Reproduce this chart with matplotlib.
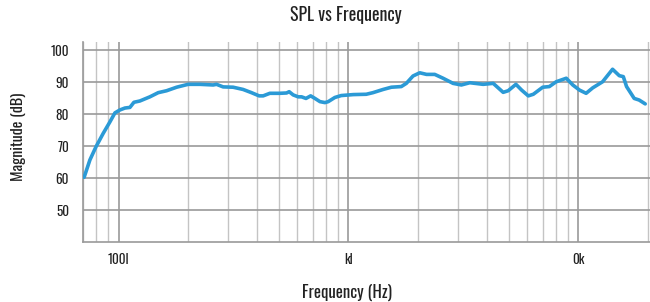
import matplotlib
matplotlib.use("Agg")
import matplotlib.pyplot as plt
from matplotlib.ticker import FixedLocator, LogLocator, NullFormatter, FixedFormatter
import numpy as np

freq = [70.8, 75, 79.7, 85.7, 91.7, 96.4, 101.3, 106.5, 112, 116.6, 123.7, 136.8, 148.7,
        161.7, 178.8, 200.6, 225.8, 257.9, 266.6, 284.9, 314.9, 348, 378.5, 408.6, 425.5,
        455, 502.6, 537.8, 552, 574.6, 604.2, 625, 653.4, 684.7, 714.7, 751.6, 790, 816.5,
        872.6, 930, 1050, 1195, 1278, 1415, 1537, 1697, 1785, 1909, 2042, 2185, 2373, 2579,
        2851, 3098, 3372, 3853, 4262, 4710, 4952, 5352, 5666, 6058, 6370, 7000, 7480, 8010,
        8860, 9460, 10120, 10810, 11550, 12750, 14090, 15070, 15690, 16210, 17500, 18390, 19540]
spl = [60.3, 65.7, 69.8, 74.0, 77.6, 80.4, 81.3, 81.9, 82.1, 83.7, 84.1, 85.4, 86.7,
       87.3, 88.4, 89.3, 89.3, 89.1, 89.3, 88.5, 88.4, 87.7, 86.7, 85.7, 85.7,
       86.5, 86.5, 86.6, 87.0, 86.0, 85.4, 85.4, 84.9, 85.7, 84.9, 83.9, 83.6, 83.9,
       85.2, 85.8, 86.1, 86.2, 86.7, 87.7, 88.4, 88.6, 89.6, 91.9, 92.9, 92.4, 92.4, 91.2,
       89.6, 89.1, 89.8, 89.3, 89.6, 86.8, 87.3, 89.3, 87.5, 85.7, 86.2, 88.4, 88.6, 90.1,
       91.2, 89.1, 87.5, 86.5, 88.2, 90.1, 94.0, 92.0, 91.7, 88.6, 84.9, 84.4, 83.2]

x_tick_vals = [100, 1000, 10000]
x_tick_labels = ["100l", "kl", "0k"]
y_tick_vals = [50, 60, 70, 80, 90, 100]

plt.rcParams['font.family'] = ["Oswald", "DejaVu Sans"]
TXT = "#222222"

W, H = 650, 302
fig = plt.figure(figsize=(6.5, 3.02), dpi=100)
ax = fig.add_axes([83/W, 1 - 241.7/H, 1 - 83/W, (241.7 - 41.7)/H])
ax.semilogx(freq, spl, color="#2b9ad6", lw=2.6, solid_capstyle="round", zorder=3)

ax.set_xlim(70, 20500)
ax.set_ylim(40.2, 102.6)
ax.xaxis.set_major_locator(FixedLocator(x_tick_vals))
ax.xaxis.set_major_formatter(FixedFormatter(x_tick_labels))
ax.xaxis.set_minor_locator(LogLocator(base=10, subs=np.arange(2, 10)))
ax.xaxis.set_minor_formatter(NullFormatter())
ax.set_yticks(y_tick_vals)

ax.grid(True, which="major", color="#9a9a9a", lw=1.2)
ax.grid(True, which="minor", axis="x", color="#c4c4c4", lw=1.0)
ax.tick_params(which="both", length=0, labelsize=9.5, colors=TXT)
ax.tick_params(axis="y", pad=10)
ax.tick_params(axis="x", pad=8)

for s in ["top", "right"]:
    ax.spines[s].set_visible(False)
for s in ["left", "bottom"]:
    ax.spines[s].set_color("#9a9a9a")
    ax.spines[s].set_linewidth(1.2)

fig.text(346/W, 1 - 15/H, "SPL vs Frequency", fontsize=12.8, color=TXT, ha="center", va="center")
fig.text(347/W, 1 - 292/H, "Frequency (Hz)", fontsize=12, color=TXT, ha="center", va="center")
fig.text(18/W, 1 - 137/H, "Magnitude (dB)", fontsize=11.5, color=TXT, ha="center", va="center",
         rotation=90)

fig.savefig("out.png", dpi=100)
